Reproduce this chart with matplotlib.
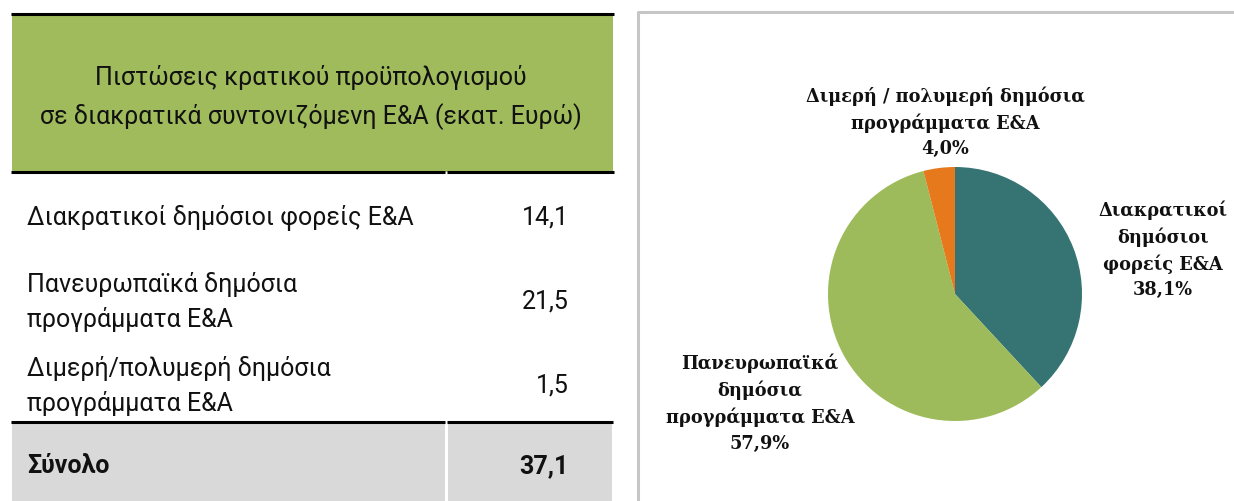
import matplotlib
matplotlib.use("Agg")
import matplotlib.pyplot as plt
from matplotlib.patches import Rectangle

# ---------------- data ----------------
header_lines = ["Πιστώσεις κρατικού προϋπολογισμού",
                "σε διακρατικά συντονιζόμενη Ε&Α (εκατ. Ευρώ)"]
row_labels = ["Διακρατικοί δημόσιοι φορείς Ε&Α",
              "Πανευρωπαϊκά δημόσια\nπρογράμματα Ε&Α",
              "Διμερή/πολυμερή δημόσια\nπρογράμματα Ε&Α"]
row_values = ["14,1", "21,5", "1,5"]
total_label = "Σύνολο"
total_value = "37,1"

pie_labels = ["Διακρατικοί\nδημόσιοι\nφορείς Ε&Α",
              "Πανευρωπαϊκά\nδημόσια\nπρογράμματα Ε&Α",
              "Διμερή / πολυμερή δημόσια\nπρογράμματα Ε&Α"]
pie_pct = [38.1, 57.9, 4.0]
pie_colors = ["#357472", "#9dbb5a", "#e6791b"]

# ---------------- figure ----------------
W, H = 1234, 502
fig = plt.figure(figsize=(W / 100, H / 100), dpi=100)
fig.patch.set_facecolor("white")

ov = fig.add_axes([0, 0, 1, 1])
ov.set_xlim(0, W)
ov.set_ylim(H, 0)
ov.axis("off")

sans = ["Roboto", "DejaVu Sans"]
serif = ["DejaVu Serif"]
FS = 18

# header
ov.add_patch(Rectangle((12, 15), 601, 158, facecolor="#a0bb5c", edgecolor="none", zorder=1))
ov.plot([11, 614], [14.5, 14.5], color="black", lw=2.2, solid_capstyle="butt", zorder=2)
ov.plot([11, 445], [173, 173], color="black", lw=2.2, solid_capstyle="butt", zorder=2)
ov.plot([447, 614], [173, 173], color="black", lw=2.2, solid_capstyle="butt", zorder=2)
ov.text(311, 77, header_lines[0], ha="center", va="center", fontsize=FS,
        family=sans, color="#111111", zorder=3)
ov.text(311, 117, header_lines[1], ha="center", va="center", fontsize=FS,
        family=sans, color="#111111", zorder=3)

# rows
row_y = [218, 302, 386]
for lab, val, y in zip(row_labels, row_values, row_y):
    ov.text(27, y, lab, ha="left", va="center", fontsize=FS, family=sans,
            color="#111111", linespacing=1.5)
    ov.text(569, y, val, ha="right", va="center", fontsize=FS, family=sans,
            color="#111111")

# total row
ov.add_patch(Rectangle((12, 424), 600, 80, facecolor="#d9d9d9", edgecolor="none", zorder=1))
ov.plot([445.5, 445.5], [424, 503], color="white", lw=2.2, zorder=2)
ov.plot([11, 445], [423, 423], color="black", lw=2.2, solid_capstyle="butt", zorder=2)
ov.plot([447, 613], [423, 423], color="black", lw=2.2, solid_capstyle="butt", zorder=2)
ov.text(27, 466, total_label, ha="left", va="center", fontsize=FS, family=sans,
        fontweight="bold", color="#111111")
ov.text(569, 466, total_value, ha="right", va="center", fontsize=FS, family=sans,
        fontweight="bold", color="#111111")

# pie panel border
ov.plot([638, 638, W + 5], [H + 5, 13, 13], color="#c6c6c6", lw=2.2, zorder=1)

# pie
cx, cy, r = 955, 295, 127
pax = fig.add_axes([(cx - r) / W, (H - cy - r) / H, 2 * r / W, 2 * r / H])
pax.pie(pie_pct, colors=pie_colors, startangle=90, counterclock=False,
        wedgeprops=dict(linewidth=0))
pax.set_xlim(-1, 1)
pax.set_ylim(-1, 1)
pax.set_aspect("equal")
pax.axis("off")

label_pos = [(1163, 250), (760, 403), (945, 122)]
for lab, pct, (x, y) in zip(pie_labels, pie_pct, label_pos):
    txt = lab + "\n" + f"{pct:.1f}".replace(".", ",") + "%"
    ov.text(x, y, txt, ha="center", va="center", fontsize=12.8, family=serif,
            fontweight="bold", color="#111111", linespacing=1.5, zorder=5)

fig.savefig("out.png", dpi=100, facecolor="white")
